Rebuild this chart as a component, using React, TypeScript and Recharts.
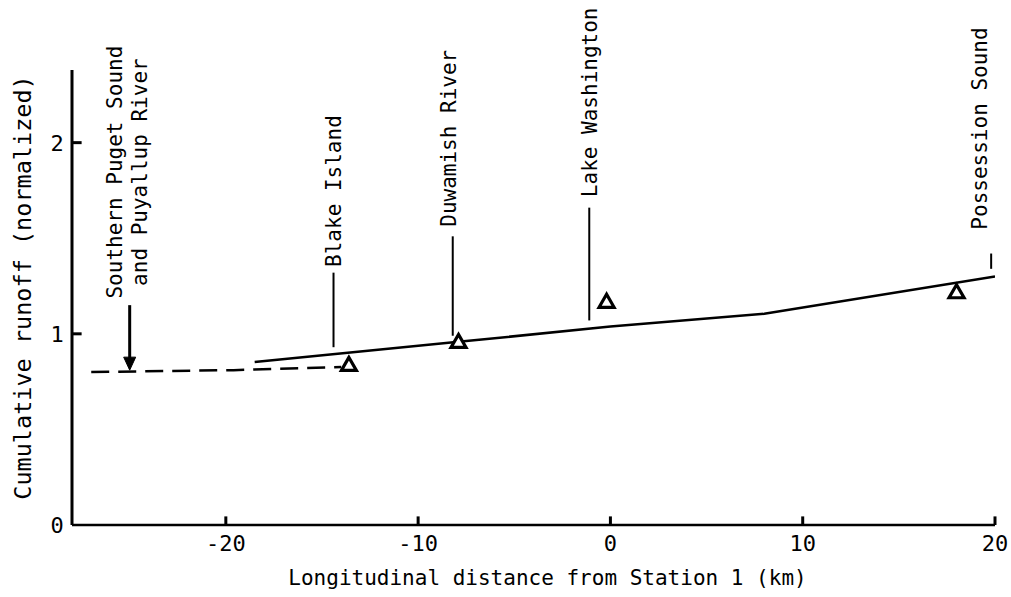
import React from "react";
import {
  ComposedChart,
  Line,
  Scatter,
  XAxis,
  YAxis,
  ReferenceLine,
  ReferenceDot,
  Label,
} from "recharts";

// Cumulative runoff along the channel (km from Station 1, normalized runoff)
const runoffModel = [
  { x: -18.5, y: 0.853 },
  { x: -7.9, y: 0.958 },
  { x: 0, y: 1.038 },
  { x: 8, y: 1.105 },
  { x: 20, y: 1.3 },
];

// Southern reach, shown dashed
const runoffSouth = [
  { x: -27, y: 0.8 },
  { x: -19.6, y: 0.81 },
  { x: -14, y: 0.826 },
];

// Observed values at the named inflows
const stationPoints = [
  { x: -13.6, y: 0.84 },
  { x: -7.9, y: 0.96 },
  { x: -0.2, y: 1.17 },
  { x: 18.0, y: 1.22 },
];

// Named inflows: leader line (km, from..to) and where the rotated name starts
const inflowNames = [
  { name: "Blake Island", km: -14.4, from: 0.93, to: 1.32, textKm: -14.4, textAt: 1.35 },
  { name: "Duwamish River", km: -8.2, from: 0.99, to: 1.51, textKm: -8.4, textAt: 1.56 },
  { name: "Lake Washington", km: -1.1, from: 1.07, to: 1.66, textKm: -1.1, textAt: 1.715 },
  { name: "Possession Sound", km: 19.8, from: 1.34, to: 1.42, textKm: 19.2, textAt: 1.545 },
];

// Southern boundary inflow, marked with an arrow
const southArrow = { km: -25, from: 0.855, to: 1.15, textAt: 1.846 };
const southLines = ["Southern Puget Sound", "and Puyallup River"];

const xTicks = [-20, -10, 0, 10, 20];
const yTicks = [0, 1, 2];

const X_MIN = -28;
const X_MAX = 20;
const Y_MAX = 2.38;

const FONT = "'DejaVu Sans Mono', 'Liberation Mono', monospace";
const INK = "#000";

const XTick = (props: any) => {
  const { x, y, payload } = props;
  return (
    <text x={x} y={y + 26} textAnchor="middle" fontFamily={FONT} fontSize={22} fill={INK}>
      {payload.value}
    </text>
  );
};

const YTick = (props: any) => {
  const { x, y, payload } = props;
  return (
    <text x={x - 15} y={y + 8} textAnchor="middle" fontFamily={FONT} fontSize={22} fill={INK}>
      {payload.value}
    </text>
  );
};

const Triangle = (props: any) => {
  const { cx, cy } = props;
  if (cx == null || cy == null) return null;
  const d = `M${cx},${cy - 7} L${cx - 7.5},${cy + 6} L${cx + 7.5},${cy + 6} Z`;
  return <path d={d} fill="#fff" stroke={INK} strokeWidth={3.2} strokeLinejoin="miter" />;
};

const ArrowHead = (props: any) => {
  const { cx, cy } = props;
  if (cx == null || cy == null) return null;
  const d = `M${cx},${cy} L${cx - 6},${cy - 13} L${cx + 6},${cy - 13} Z`;
  return <path d={d} fill={INK} stroke={INK} strokeWidth={1} />;
};

const makeName = (text: string) => (props: any) => {
  const { cx, cy } = props;
  if (cx == null || cy == null) return null;
  return (
    <text
      x={cx}
      y={cy}
      dy="0.36em"
      transform={`rotate(-90, ${cx}, ${cy})`}
      textAnchor="start"
      fontFamily={FONT}
      fontSize={21}
      fill={INK}
    >
      {text}
    </text>
  );
};

const SouthName = (props: any) => {
  const { cx, cy } = props;
  if (cx == null || cy == null) return null;
  const cols = [cx - 15, cx + 10];
  return (
    <g>
      {southLines.map((t, i) => (
        <text
          key={t}
          x={cols[i]}
          y={cy}
          dy="0.36em"
          transform={`rotate(-90, ${cols[i]}, ${cy})`}
          textAnchor="middle"
          fontFamily={FONT}
          fontSize={21}
          fill={INK}
        >
          {t}
        </text>
      ))}
    </g>
  );
};

export default function App() {
  return (
    <div style={{ position: "absolute", left: 0, top: 0, background: "#fff" }}>
      <ComposedChart
        width={1011}
        height={597}
        margin={{ top: 70, right: 16, bottom: 12, left: 12 }}
      >
        <XAxis
          type="number"
          dataKey="x"
          domain={[X_MIN, X_MAX]}
          ticks={xTicks}
          allowDataOverflow
          height={60}
          tickSize={0}
          tickMargin={0}
          tickLine={false}
          tick={<XTick />}
          axisLine={{ stroke: INK, strokeWidth: 2.5 }}
        >
          <Label
            content={(p: any) => {
              const vb = p.viewBox;
              return (
                <text
                  x={vb.x + vb.width / 2 + 14}
                  y={vb.y + 60}
                  textAnchor="middle"
                  fontFamily={FONT}
                  fontSize={21}
                  fill={INK}
                >
                  Longitudinal distance from Station 1 (km)
                </text>
              );
            }}
          />
        </XAxis>
        <YAxis
          type="number"
          domain={[0, Y_MAX]}
          ticks={yTicks}
          allowDataOverflow
          width={60}
          tickSize={0}
          tickMargin={0}
          tickLine={false}
          tick={<YTick />}
          axisLine={{ stroke: INK, strokeWidth: 3 }}
        >
          <Label
            content={(p: any) => {
              const vb = p.viewBox;
              const lx = 23;
              const ly = vb.y + vb.height / 2 - 10;
              return (
                <text
                  x={lx}
                  y={ly}
                  dy="0.36em"
                  transform={`rotate(-90, ${lx}, ${ly})`}
                  textAnchor="middle"
                  fontFamily={FONT}
                  fontSize={23.5}
                  fill={INK}
                >
                  Cumulative runoff (normalized)
                </text>
              );
            }}
          />
        </YAxis>

        {/* inward tick marks */}
        {xTicks.map((t) => (
          <ReferenceLine
            key={`xt-${t}`}
            segment={[
              { x: t, y: 0 },
              { x: t, y: 0.045 },
            ]}
            stroke={INK}
            strokeWidth={3}
            ifOverflow="visible"
          />
        ))}
        {yTicks
          .filter((t) => t > 0)
          .map((t) => (
            <ReferenceLine
              key={`yt-${t}`}
              segment={[
                { x: X_MIN, y: t },
                { x: X_MIN + 0.5, y: t },
              ]}
              stroke={INK}
              strokeWidth={3}
              ifOverflow="visible"
            />
          ))}

        {inflowNames.map((a) => (
          <ReferenceLine
            key={`lead-${a.name}`}
            segment={[
              { x: a.km, y: a.from },
              { x: a.km, y: a.to },
            ]}
            stroke={INK}
            strokeWidth={2}
            ifOverflow="visible"
          />
        ))}
        {inflowNames.map((a) => (
          <ReferenceDot
            key={`name-${a.name}`}
            x={a.textKm}
            y={a.textAt}
            r={0}
            shape={makeName(a.name)}
            ifOverflow="visible"
          />
        ))}

        <ReferenceLine
          segment={[
            { x: southArrow.km, y: southArrow.from },
            { x: southArrow.km, y: southArrow.to },
          ]}
          stroke={INK}
          strokeWidth={3}
          ifOverflow="visible"
        />
        <ReferenceDot
          x={southArrow.km}
          y={southArrow.from - 0.045}
          r={0}
          shape={ArrowHead}
          ifOverflow="visible"
        />
        <ReferenceDot
          x={southArrow.km}
          y={southArrow.textAt}
          r={0}
          shape={SouthName}
          ifOverflow="visible"
        />

        <Line
          data={runoffSouth}
          dataKey="y"
          type="linear"
          stroke={INK}
          strokeWidth={2.5}
          strokeDasharray="18 9"
          dot={false}
          activeDot={false}
          isAnimationActive={false}
        />
        <Line
          data={runoffModel}
          dataKey="y"
          type="linear"
          stroke={INK}
          strokeWidth={2.5}
          dot={false}
          activeDot={false}
          isAnimationActive={false}
        />
        <Scatter
          data={stationPoints}
          dataKey="y"
          shape={Triangle}
          isAnimationActive={false}
        />
      </ComposedChart>
    </div>
  );
}
